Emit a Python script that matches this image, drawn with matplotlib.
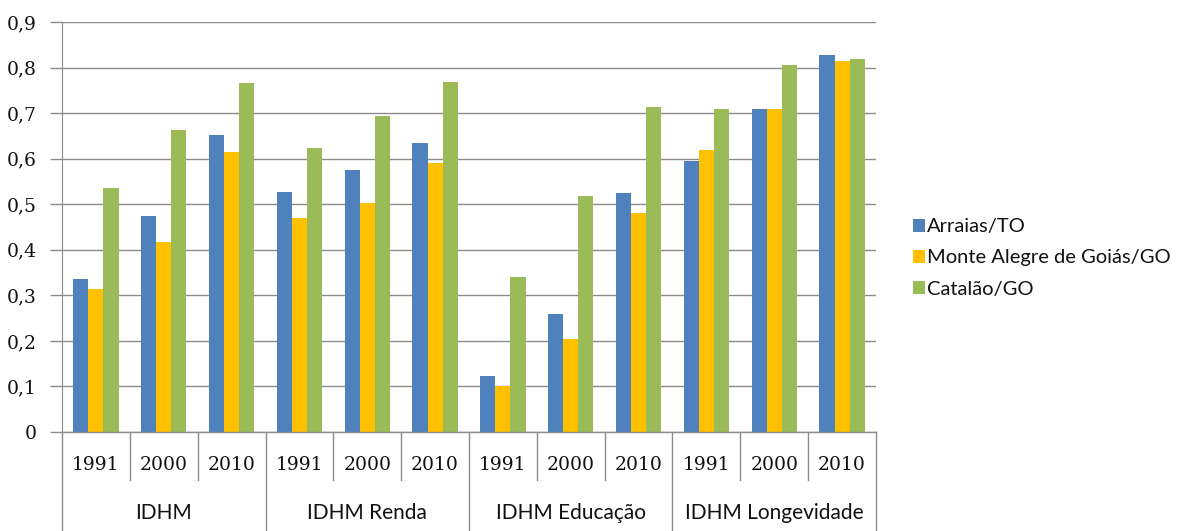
import matplotlib
matplotlib.use("Agg")
import matplotlib.pyplot as plt
import matplotlib.transforms as mtransforms
from matplotlib.lines import Line2D
from matplotlib.patches import Patch

groups = ["IDHM", "IDHM Renda", "IDHM Educação", "IDHM Longevidade"]
years = ["1991", "2000", "2010"]
series_names = ["Arraias/TO", "Monte Alegre de Goiás/GO", "Catalão/GO"]
arraias = [0.336, 0.474, 0.651, 0.527, 0.575, 0.634, 0.122, 0.259, 0.524, 0.594, 0.708, 0.828]
monte = [0.313, 0.416, 0.615, 0.470, 0.503, 0.591, 0.101, 0.205, 0.480, 0.619, 0.708, 0.814]
catalao = [0.535, 0.662, 0.766, 0.624, 0.694, 0.768, 0.340, 0.517, 0.714, 0.708, 0.806, 0.818]
yticks = [0, 0.1, 0.2, 0.3, 0.4, 0.5, 0.6, 0.7, 0.8, 0.9]
ytick_labels = ["0", "0,1", "0,2", "0,3", "0,4", "0,5", "0,6", "0,7", "0,8", "0,9"]

colors = ["#4F81BD", "#FFC000", "#9BBB59"]
grid_c = "#8C8C8C"
txt_c = "#111111"
W, H = 1184, 531
fig = plt.figure(figsize=(W/100, H/100), dpi=100)
L, R, T, B = 62, 876, 22, 432
ax = fig.add_axes([L/W, 1-B/H, (R-L)/W, (B-T)/H])

n = len(arraias)
xs = list(range(n))
bw = 0.222
for i, (vals, c) in enumerate(zip([arraias, monte, catalao], colors)):
    ax.bar([x + (i-1)*bw for x in xs], vals, width=bw, color=c, zorder=3, linewidth=0)

ax.set_xlim(-0.5, n-0.5)
ax.set_ylim(0, 0.9)
ax.set_yticks(yticks)
ax.set_yticklabels(ytick_labels, family="DejaVu Serif", fontsize=13.5, color=txt_c)
ax.tick_params(axis="y", length=9, width=1, color=grid_c, pad=9)
ax.set_xticks([])
ax.yaxis.grid(True, color=grid_c, linewidth=1, zorder=0)
for s in ["top", "right", "bottom"]:
    ax.spines[s].set_visible(False)
ax.spines["left"].set_color(grid_c)

trans = mtransforms.blended_transform_factory(ax.transData, fig.transFigure)
def fy(p):
    return 1 - p/H

fig.add_artist(Line2D([-0.5, n-0.5], [fy(B), fy(B)], transform=trans, color=grid_c, lw=1))
for k in range(n+1):
    xk = k - 0.5
    yb = 531 if k % 3 == 0 else 480
    fig.add_artist(Line2D([xk, xk], [fy(B), fy(yb)], transform=trans, color=grid_c, lw=1))
for k in range(n):
    fig.text(k, fy(465), years[k % 3], transform=trans, ha="center", va="center",
             family="DejaVu Serif", fontsize=13.5, color=txt_c)
for g, name in enumerate(groups):
    fig.text(g*3 + 1, fy(513), name, transform=trans, ha="center", va="center",
             family="Lato", fontsize=15, color=txt_c)

handles = [Patch(facecolor=c, edgecolor="none") for c in colors]
fig.legend(handles, series_names, loc="center left", bbox_to_anchor=(913/W, fy(258)),
           frameon=False, prop={"family": "Lato", "size": 14.5}, labelcolor=txt_c,
           borderaxespad=0, borderpad=0,
           handlelength=0.6, handleheight=0.6, handletextpad=0.08, labelspacing=0.7)

fig.savefig("out.png", dpi=100)
